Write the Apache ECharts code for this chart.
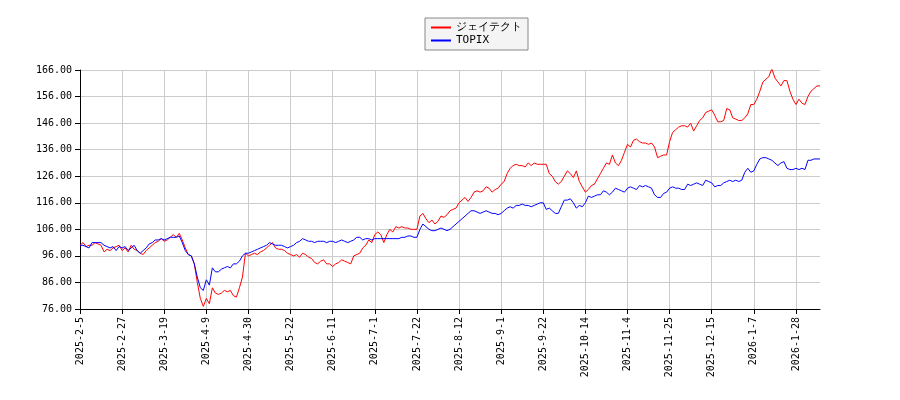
<!DOCTYPE html>
<html>
<head>
<meta charset="utf-8">
<script src="https://cdn.jsdelivr.net/npm/echarts@6/dist/echarts.min.js"></script>
<style>html,body{margin:0;background:#fff}#c{width:900px;height:400px}</style>
</head>
<body>
<div id="c"></div>
<script>
// trading days: weekdays from 2025-2-5, minus market holidays
var holidays = ['2025-2-11','2025-2-24','2025-3-20','2025-4-29','2025-5-5','2025-5-6','2025-7-21','2025-8-11',
  '2025-9-15','2025-9-23','2025-10-13','2025-11-3','2025-11-24','2025-12-31','2026-1-1','2026-1-2','2026-1-12','2026-2-11'];
var red = [100,101,99.5,100,100,101,100.5,100,97.5,98.5,98,99,99.5,100,
  98,99,97.5,100,98.5,98,97,96.5,98,99,100,101,101.5,102.5,
  101.5,102,103,104,103,104.5,102,99,96.5,96,93,86,80,77,
  80,78,84,82,81.5,82,83,82.5,83,81,80.5,84,88,97,
  96,96.5,97,96.5,97.5,98,99,100,101,99,98.5,98.5,98,97,
  96.5,96,96.5,95.5,97,96.5,95.5,95,93.5,93,94,94.5,93,93,
  92,93,93.5,94.5,94,93.5,93,96,96.5,97,99,100,102,101,
  104,105,104,101,104,106,105,107,106.5,107,106.5,106.5,106,106,
  106,111,112,110,108.5,109.5,108,109,111,110.5,111.5,113,113.5,114,
  116,117,118,116.5,118,120,120.5,120,120.5,122,121.5,120,121,121.5,
  123,124,127,129,130,130.5,130,130,129.5,131,130,131,130.5,130.5,
  130.5,130.5,127,126,124,123,124,126,128,127,125.5,128,124,122,
  120,121,122.5,123,125,127,129,131,130.5,134,131,130,132,135,
  138,137,139.5,140,139,138.5,138.5,138,138.5,137,133,133.5,134,134,
  139,142.5,143.5,144.5,145,145,144.5,146,143,145,147,148,150,150.5,
  151,149,146.5,146.5,147,151.5,151,148,147.5,147,147,148,149.5,153,
  153,155,158,161.5,162.5,163.5,166.5,163,161.5,160,162,162,158,155,
  153,155,153.5,153,156,158,159,160,160];
var topix = [100,100,99.5,99,101,101,101,101,100,99.5,99,99.5,98,99.5,
  99,99.5,98,99,100,98,97,98,99,100.5,101,102,102,102.5,
  102,102.5,103,103,103,103.5,101,98,96.5,96,93,88,84,83,
  87,85,91.5,90,90,91,91.5,92,91.5,93,93,94,96,97,
  97,97.5,98,98.5,99,99.5,100,101,100.5,100,100,100,99.5,99,
  99.5,100,101,101.5,102.5,102,101.5,101.5,101,101.5,101.5,101.5,101,101.5,
  101.5,101,101.5,102,101.5,101,101.5,102,103,103,102,102.5,102.5,102,
  102.5,102.5,102.5,102.5,102.5,102.5,102.5,102.5,102.5,103,103,103.5,103.5,103,
  103,106,108,107,106,105.5,105.5,106,106.5,106,105.5,106,107,108,
  109,110,111,112,113,113,112.5,112,112.5,113,112.5,112,112,111.5,
  112,113,114,114.5,114,115,115,115.5,115,115,114.5,115,115.5,116,
  116,113.5,114,113,112,112,114.5,117,117,117.5,116,114,115,114.5,
  116,118.5,118,118.5,119,119,120.5,120,119,120,121.5,121,120.5,120,
  121.5,122,121.5,121,122.5,122,122.5,122,121.5,119,118,118,119.5,120,
  121.5,122,121.5,121.5,121,121,123,122.5,123,123.5,123,122.5,124.5,124,
  123.5,122,122.5,122.5,123.5,124,124.5,124,124.5,124,124.5,127.5,129,127.5,
  128,130.5,132.5,133,133,132.5,132,131,130,131,131.5,129,128.5,128.5,
  129,128.5,129,128.5,132,132,132.5,132.5,132.5];

var dates = [];
var d = new Date(2025, 1, 5);
while (dates.length < red.length) {
    var s = d.getFullYear() + '-' + (d.getMonth() + 1) + '-' + d.getDate();
    if (d.getDay() != 0 && d.getDay() != 6 && holidays.indexOf(s) < 0) dates.push(s);
    d.setDate(d.getDate() + 1);
}

var font = 'DejaVu Sans Mono';
var chart = echarts.init(document.getElementById('c'));
chart.setOption({
    animation: false,
    textStyle: { fontFamily: font },
    legend: {
        orient: 'vertical', left: 425, top: 18,
        backgroundColor: '#f4f4f4', borderColor: '#888', borderWidth: 1, borderRadius: 0,
        padding: [4, 6], itemGap: 2, itemWidth: 20, itemHeight: 2, icon: 'rect',
        textStyle: { fontFamily: font, fontSize: 11, color: '#000' },
        data: ['ジェイテクト', 'TOPIX']
    },
    grid: { left: 80, right: 80, top: 70, bottom: 91 },
    xAxis: {
        type: 'category', data: dates, boundaryGap: false,
        axisLine: { lineStyle: { color: '#000' } },
        axisTick: { interval: 13, lineStyle: { color: '#000' } },
        axisLabel: { interval: 13, rotate: 90, color: '#000', fontSize: 10, fontFamily: font },
        splitLine: { show: true, interval: 13, lineStyle: { color: '#ccc' } }
    },
    yAxis: {
        type: 'value', min: 76, max: 166, interval: 10,
        axisLine: { show: true, lineStyle: { color: '#000' } },
        axisTick: { show: true, lineStyle: { color: '#000' } },
        axisLabel: { color: '#000', fontSize: 10, fontFamily: font, formatter: function (v) { return v.toFixed(2); } },
        splitLine: { lineStyle: { color: '#ccc' } }
    },
    series: [
        { name: 'ジェイテクト', type: 'line', data: red, showSymbol: false, color: '#ff0000', lineStyle: { width: 1 } },
        { name: 'TOPIX', type: 'line', data: topix, showSymbol: false, color: '#0000ff', lineStyle: { width: 1 } }
    ]
});
</script>
</body>
</html>
